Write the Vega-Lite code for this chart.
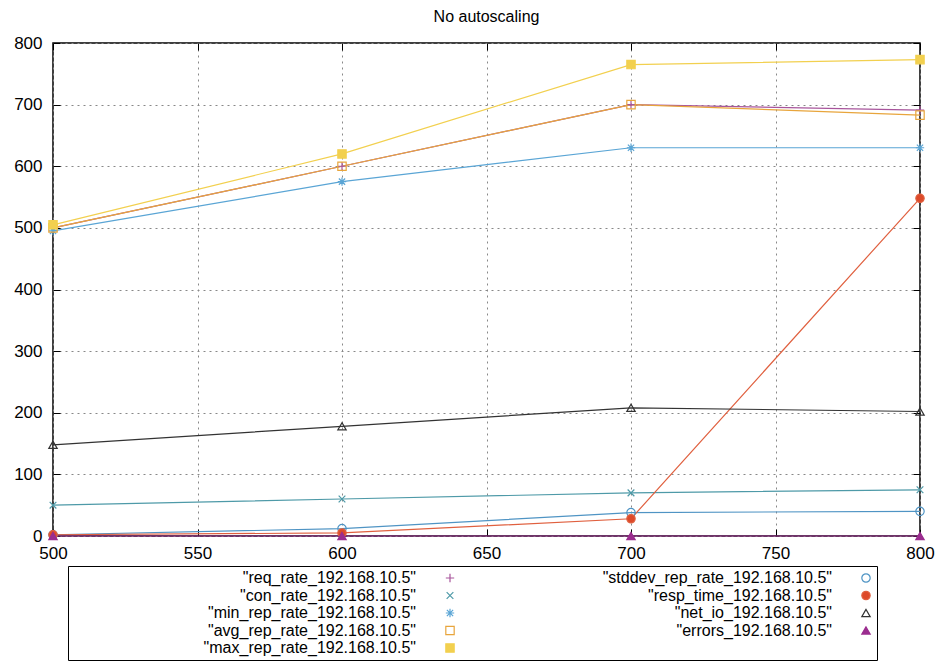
{
  "$schema": "https://vega.github.io/schema/vega-lite/v6.json",
  "width": 867,
  "height": 493,
  "autosize": "none",
  "padding": {"left": 53, "top": 43, "right": 19, "bottom": 125},
  "background": "white",
  "title": {"text": "No autoscaling", "fontSize": 16, "font": "Liberation Sans", "fontWeight": "normal", "color": "black", "offset": 9},
  "config": {
    "view": {"stroke": "black", "strokeWidth": 1.5},
    "axis": {
      "domain": false,
      "labelFont": "Liberation Sans",
      "labelFontSize": 17,
      "labelColor": "black",
      "labelFlush": false,
      "labelOverlap": false,
      "tickColor": "black",
      "tickSize": -7,
      "tickWidth": 1,
      "gridColor": "#888888",
      "gridDash": [2, 4],
      "gridWidth": 1,
      "title": null
    }
  },
  "data": {
    "values": [
      {"series": "\"req_rate_192.168.10.5\"", "x": 500, "y": 500},
      {"series": "\"req_rate_192.168.10.5\"", "x": 600, "y": 600},
      {"series": "\"req_rate_192.168.10.5\"", "x": 700, "y": 700},
      {"series": "\"req_rate_192.168.10.5\"", "x": 800, "y": 691},
      {"series": "\"con_rate_192.168.10.5\"", "x": 500, "y": 50},
      {"series": "\"con_rate_192.168.10.5\"", "x": 600, "y": 60},
      {"series": "\"con_rate_192.168.10.5\"", "x": 700, "y": 70},
      {"series": "\"con_rate_192.168.10.5\"", "x": 800, "y": 75},
      {"series": "\"min_rep_rate_192.168.10.5\"", "x": 500, "y": 495},
      {"series": "\"min_rep_rate_192.168.10.5\"", "x": 600, "y": 575},
      {"series": "\"min_rep_rate_192.168.10.5\"", "x": 700, "y": 630},
      {"series": "\"min_rep_rate_192.168.10.5\"", "x": 800, "y": 630},
      {"series": "\"avg_rep_rate_192.168.10.5\"", "x": 500, "y": 500},
      {"series": "\"avg_rep_rate_192.168.10.5\"", "x": 600, "y": 600},
      {"series": "\"avg_rep_rate_192.168.10.5\"", "x": 700, "y": 700},
      {"series": "\"avg_rep_rate_192.168.10.5\"", "x": 800, "y": 683},
      {"series": "\"max_rep_rate_192.168.10.5\"", "x": 500, "y": 505},
      {"series": "\"max_rep_rate_192.168.10.5\"", "x": 600, "y": 620},
      {"series": "\"max_rep_rate_192.168.10.5\"", "x": 700, "y": 765},
      {"series": "\"max_rep_rate_192.168.10.5\"", "x": 800, "y": 773},
      {"series": "\"stddev_rep_rate_192.168.10.5\"", "x": 500, "y": 2},
      {"series": "\"stddev_rep_rate_192.168.10.5\"", "x": 600, "y": 12},
      {"series": "\"stddev_rep_rate_192.168.10.5\"", "x": 700, "y": 38},
      {"series": "\"stddev_rep_rate_192.168.10.5\"", "x": 800, "y": 40},
      {"series": "\"resp_time_192.168.10.5\"", "x": 500, "y": 2},
      {"series": "\"resp_time_192.168.10.5\"", "x": 600, "y": 5},
      {"series": "\"resp_time_192.168.10.5\"", "x": 700, "y": 28},
      {"series": "\"resp_time_192.168.10.5\"", "x": 800, "y": 548},
      {"series": "\"net_io_192.168.10.5\"", "x": 500, "y": 148},
      {"series": "\"net_io_192.168.10.5\"", "x": 600, "y": 178},
      {"series": "\"net_io_192.168.10.5\"", "x": 700, "y": 208},
      {"series": "\"net_io_192.168.10.5\"", "x": 800, "y": 202},
      {"series": "\"errors_192.168.10.5\"", "x": 500, "y": 0},
      {"series": "\"errors_192.168.10.5\"", "x": 600, "y": 0},
      {"series": "\"errors_192.168.10.5\"", "x": 700, "y": 0},
      {"series": "\"errors_192.168.10.5\"", "x": 800, "y": 0}
    ]
  },
  "layer": [
    {
      "mark": {"type": "line", "strokeWidth": 1.2},
      "encoding": {
        "x": {"field": "x", "type": "quantitative", "scale": {"domain": [500, 800], "nice": false, "zero": false}, "axis": {"values": [500, 550, 600, 650, 700, 750, 800], "labelPadding": 16, "grid": true}},
        "y": {"field": "y", "type": "quantitative", "scale": {"domain": [0, 800], "nice": false}, "axis": {"values": [0, 100, 200, 300, 400, 500, 600, 700, 800], "labelPadding": 18, "grid": true}},
        "stroke": {
          "field": "series", "type": "nominal", "title": null,
          "scale": {
            "domain": ["\"req_rate_192.168.10.5\"", "\"con_rate_192.168.10.5\"", "\"min_rep_rate_192.168.10.5\"", "\"avg_rep_rate_192.168.10.5\"", "\"max_rep_rate_192.168.10.5\"", "\"stddev_rep_rate_192.168.10.5\"", "\"resp_time_192.168.10.5\"", "\"net_io_192.168.10.5\"", "\"errors_192.168.10.5\""],
            "range": ["#a8559c", "#4e9aa8", "#5aa5d5", "#e8a53c", "#f2d04f", "#4f94c4", "#e0603f", "#333333", "#9b2d8f"]
          },
          "legend": {
            "orient": "none", "legendX": 15, "legendY": 523, "columns": 2,
            "strokeColor": "black", "padding": 4, "fillColor": "white",
            "labelFont": "Liberation Sans", "labelFontSize": 16, "labelColor": "black",
            "labelAlign": "right", "labelOffset": -42, "labelLimit": 400,
            "symbolOffset": 370, "symbolSize": 70, "symbolStrokeWidth": 1.2,
            "rowPadding": 1.5, "columnPadding": 31
          }
        }
      }
    },
    {
      "mark": {"type": "point", "size": 70, "strokeWidth": 1.2, "opacity": 1},
      "encoding": {
        "x": {"field": "x", "type": "quantitative", "axis": {"orient": "top", "values": [500, 550, 600, 650, 700, 750, 800], "labels": false, "grid": false}},
        "y": {"field": "y", "type": "quantitative", "axis": {"orient": "right", "values": [0, 100, 200, 300, 400, 500, 600, 700, 800], "labels": false, "grid": false}},
        "stroke": {"field": "series", "type": "nominal", "title": null},
        "shape": {
          "field": "series", "type": "nominal", "title": null,
          "scale": {
            "domain": ["\"req_rate_192.168.10.5\"", "\"con_rate_192.168.10.5\"", "\"min_rep_rate_192.168.10.5\"", "\"avg_rep_rate_192.168.10.5\"", "\"max_rep_rate_192.168.10.5\"", "\"stddev_rep_rate_192.168.10.5\"", "\"resp_time_192.168.10.5\"", "\"net_io_192.168.10.5\"", "\"errors_192.168.10.5\""],
            "range": ["M-1,0H1M0,-1V1", "M-0.8,-0.8L0.8,0.8M-0.8,0.8L0.8,-0.8", "M-1,0H1M0,-1V1M-0.75,-0.75L0.75,0.75M-0.75,0.75L0.75,-0.75", "square", "square", "circle", "circle", "triangle-up", "triangle-up"]
          }
        },
        "fill": {
          "field": "series", "type": "nominal", "title": null,
          "scale": {
            "domain": ["\"req_rate_192.168.10.5\"", "\"con_rate_192.168.10.5\"", "\"min_rep_rate_192.168.10.5\"", "\"avg_rep_rate_192.168.10.5\"", "\"max_rep_rate_192.168.10.5\"", "\"stddev_rep_rate_192.168.10.5\"", "\"resp_time_192.168.10.5\"", "\"net_io_192.168.10.5\"", "\"errors_192.168.10.5\""],
            "range": ["transparent", "transparent", "transparent", "transparent", "#f2d04f", "transparent", "#dd4a2a", "transparent", "#9b2d8f"]
          }
        }
      }
    }
  ],
  "resolve": {"axis": {"x": "independent", "y": "independent"}}
}
